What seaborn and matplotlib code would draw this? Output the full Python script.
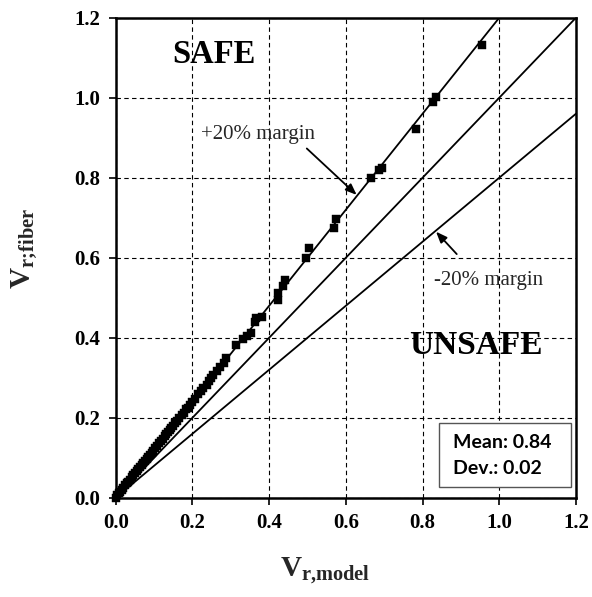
import matplotlib
matplotlib.use("Agg")
import matplotlib.pyplot as plt
import matplotlib.patches as mpatches
import seaborn as sns
import pandas as pd

# Shear-strength ratio pairs: model prediction vs. fiber contribution
v_model = [0.000, 0.004, 0.008, 0.012, 0.016, 0.020, 0.025, 0.029, 0.033, 0.037,
           0.042, 0.046, 0.050, 0.055, 0.059, 0.063, 0.068, 0.072, 0.077, 0.081,
           0.085, 0.089, 0.094, 0.098, 0.103, 0.107, 0.112, 0.119, 0.124, 0.128,
           0.132, 0.136, 0.141, 0.145, 0.150, 0.154, 0.160, 0.166, 0.172, 0.178,
           0.183, 0.188, 0.193, 0.200, 0.207, 0.215, 0.222, 0.228, 0.237, 0.242,
           0.247, 0.254, 0.263, 0.272, 0.282, 0.287, 0.313, 0.332, 0.341, 0.352,
           0.363, 0.366, 0.380, 0.424, 0.424, 0.435, 0.440, 0.497, 0.505, 0.569,
           0.574, 0.665, 0.687, 0.693, 0.782, 0.828, 0.834, 0.954]
v_fiber = [0.000, 0.006, 0.011, 0.015, 0.020, 0.025, 0.031, 0.036, 0.040, 0.045,
           0.051, 0.056, 0.061, 0.067, 0.071, 0.076, 0.082, 0.088, 0.093, 0.098,
           0.102, 0.107, 0.113, 0.118, 0.124, 0.130, 0.136, 0.143, 0.148, 0.155,
           0.159, 0.164, 0.170, 0.175, 0.180, 0.186, 0.192, 0.200, 0.207, 0.213,
           0.221, 0.225, 0.232, 0.240, 0.248, 0.259, 0.266, 0.274, 0.283, 0.291,
           0.300, 0.307, 0.318, 0.327, 0.338, 0.350, 0.382, 0.398, 0.404, 0.413,
           0.440, 0.449, 0.451, 0.494, 0.511, 0.530, 0.545, 0.600, 0.624, 0.675,
           0.696, 0.798, 0.818, 0.824, 0.921, 0.988, 1.001, 1.132]

# Reference lines: +20 % margin, 1:1, -20 % margin
line_ratios = [1.2, 1.0, 0.8]
line_x = [0.0, 1.2]

ticks = [0.0, 0.2, 0.4, 0.6, 0.8, 1.0, 1.2]
tick_labels = ["0.0", "0.2", "0.4", "0.6", "0.8", "1.0", "1.2"]

stats_lines = ["Mean: 0.84", "Dev.: 0.02"]

sns.set_theme(style="white")
plt.rcParams["font.family"] = ["Liberation Serif", "DejaVu Serif"]
plt.rcParams["mathtext.fontset"] = "custom"
plt.rcParams["mathtext.bf"] = "Liberation Serif:bold"
plt.rcParams["mathtext.rm"] = "Liberation Serif:bold"
plt.rcParams["mathtext.default"] = "bf"

fig = plt.figure(figsize=(5.92, 5.97), dpi=100)
ax = fig.add_axes([0.1956, 0.1663, 0.7774, 0.8041])

lines_df = pd.DataFrame(
    [(r, x, r * x) for r in line_ratios for x in line_x],
    columns=["ratio", "x", "y"],
)
for r in line_ratios:
    sub = lines_df[lines_df["ratio"] == r]
    sns.lineplot(data=sub, x="x", y="y", color="black", lw=1.3, ax=ax,
                 zorder=2, legend=False)

pts = pd.DataFrame({"model": v_model, "fiber": v_fiber})
sns.scatterplot(data=pts, x="model", y="fiber", marker="s", s=38,
                color="black", edgecolor="black", linewidth=0.3, ax=ax,
                zorder=3, clip_on=False)

ax.set_xlim(0, 1.2)
ax.set_ylim(0, 1.2)
ax.set_xticks(ticks)
ax.set_yticks(ticks)
ax.set_xticklabels(tick_labels, fontsize=15, fontweight="bold")
ax.set_yticklabels(tick_labels, fontsize=15, fontweight="bold")
ax.tick_params(axis="both", direction="out", length=5, width=1.2,
               color="black", labelcolor="black", pad=6,
               bottom=True, left=True)

ax.grid(True, color="black", linestyle=(0, (4, 3)), linewidth=0.8)
for s in ax.spines.values():
    s.set_color("black")
    s.set_linewidth(1.8)

ax.set_xlabel(r"$V_{r{,}model}$", fontsize=21)
ax.xaxis.set_label_coords(0.455, -0.12)
ax.set_ylabel(r"$V_{r;\!fiber}$", fontsize=21)
ax.yaxis.label.set_va("center")
ax.yaxis.set_label_coords(-0.198, 0.52)

ax.text(0.257, 1.109, "SAFE", fontsize=23.5, fontweight="bold",
        ha="center", va="center", color="black")
ax.text(0.94, 0.38, "UNSAFE", fontsize=24, fontweight="bold",
        ha="center", va="center", color="black")

arrow = dict(arrowstyle="-|>,head_length=0.55,head_width=0.22",
             color="black", lw=1.3, shrinkA=0, shrinkB=0)
ax.text(0.3695, 0.907, "+20% margin", fontsize=15, ha="center", va="center")
ax.annotate("", xy=(0.628, 0.757), xytext=(0.498, 0.873), arrowprops=arrow)
ax.text(0.971, 0.544, "-20% margin", fontsize=15, ha="center", va="center")
ax.annotate("", xy=(0.835, 0.665), xytext=(0.889, 0.609), arrowprops=arrow)

# Statistics box
ax.add_patch(mpatches.Rectangle((0.843, 0.026), 0.344, 0.161, fc="white",
                                ec="#555555", lw=1.0, zorder=4))
for txt, yy in zip(stats_lines, [0.1385, 0.0733]):
    ax.text(0.878, yy, txt, fontsize=14, fontweight="bold",
            family=["Lato", "DejaVu Sans"], ha="left", va="center",
            color="black", zorder=5)

fig.savefig("out.png", dpi=100)
